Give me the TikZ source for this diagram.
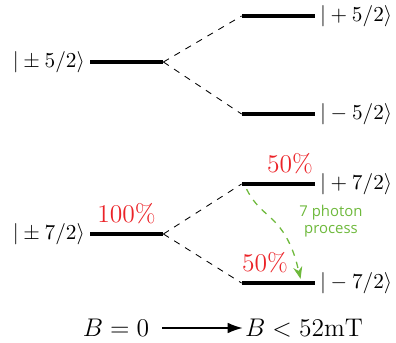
\documentclass[tikz,border=0pt]{standalone}
\usepackage{fontspec}
\newfontfamily\photonfont{Open Sans}
\usetikzlibrary{arrows.meta, positioning}
\definecolor{photongreen}{RGB}{110,185,60}
\definecolor{popred}{RGB}{235,35,40}

\begin{document}
\begin{tikzpicture}[
        x=0.47pt, y=-0.47pt,
        node distance=0pt,
        level/.style={rectangle, fill=black, inner sep=0pt,
                      minimum width=34.3pt, minimum height=1.6pt},
        ket/.style={inner sep=2pt},
        split/.style={dashed, thin},
        pop/.style={popred, font=\large, inner sep=1pt},
        photon/.style={photongreen, dashed, semithick, -{Stealth}},
    ]
    \useasboundingbox (0,0) rectangle (396,343);

    % levels at zero field
    \node[level] (pm5) at (126.5,62) {};
    \node[level] (pm7) at (126.5,234) {};
    % levels in the field
    \node[level] (p5) at (278.5,16) {};
    \node[level] (m5) at (278.5,114) {};
    \node[level] (p7) at (278.5,184) {};
    \node[level] (m7) at (278.5,283) {};

    \node[ket, left=of pm5] (kpm5) {$|\pm 5/2\rangle$};
    \node[ket, left=of pm7] (kpm7) {$|\pm 7/2\rangle$};
    \node[ket, right=of p5] (kp5) {$|+5/2\rangle$};
    \node[ket, right=of m5] (km5) {$|-5/2\rangle$};
    \node[ket, right=of p7] (kp7) {$|+7/2\rangle$};
    \node[ket, right=of m7] (km7) {$|-7/2\rangle$};

    \draw[split] (pm5.east) -- (p5.west);
    \draw[split] (pm5.east) -- (m5.west);
    \draw[split] (pm7.east) -- (p7.west);
    \draw[split] (pm7.east) -- (m7.west);

    % populations
    \node[pop, above=2.5pt of pm7] (qpm7) {100\%};
    \node[pop, above left=2.5pt and 0pt of p7.north east] (qp7) {50\%};
    \node[pop, above right=2.5pt and -1pt of m7.north west] (qm7) {50\%};

    \draw[photon] ([shift={(5,3)}]p7.south west)
        .. controls (258,212) and (272,214) .. (285,235)
        .. controls (294,250) and (297,264) .. ([shift={(59,-2)}]m7.north west);
    \node[photongreen, font=\photonfont\scriptsize, align=center] (proc) at (331,221) {7 photon\\process};

    % field axis
    \node[font=\large, inner sep=1pt] (bzero) at (116,328) {$B=0$};
    \node[font=\large, inner sep=1pt, right=15mm of bzero] (bfield) {$B<52\mathrm{mT}$};
    \draw[-{Latex[length=7pt, width=5pt]}, semithick, shorten <=5pt] (bzero) -- (bfield);
\end{tikzpicture}
\end{document}
